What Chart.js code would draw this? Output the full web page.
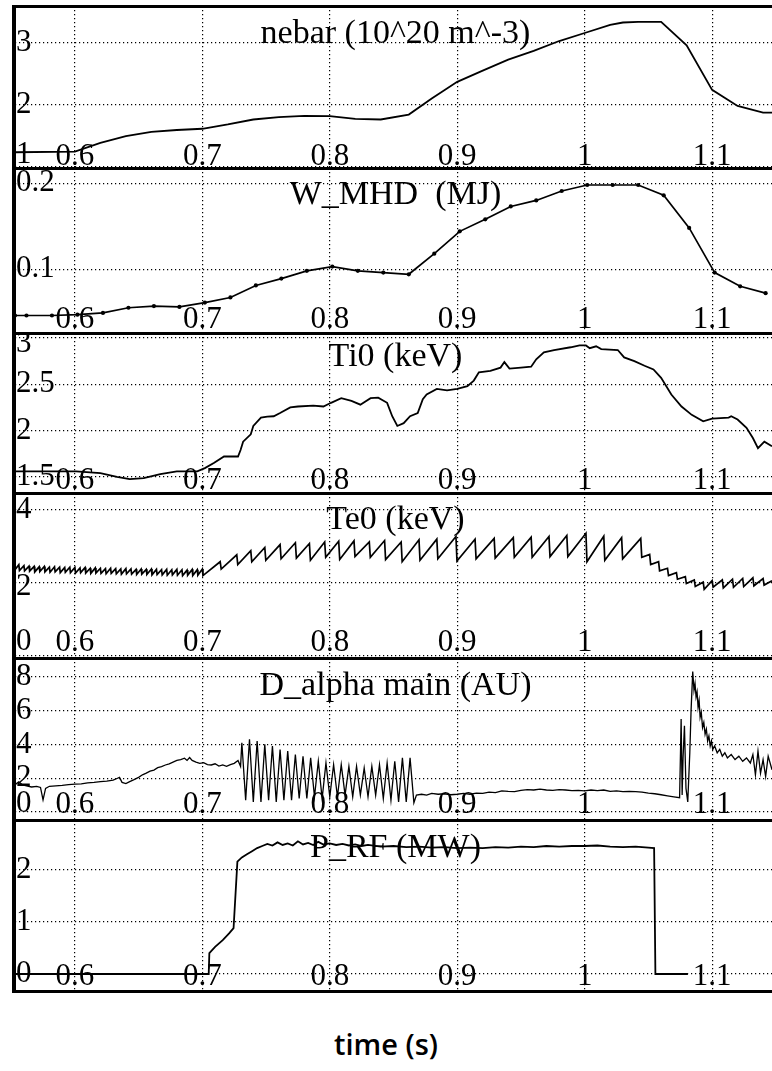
<!DOCTYPE html>
<html>
<head>
<meta charset="utf-8">
<script src="https://cdn.jsdelivr.net/npm/chart.js@4.4.1/dist/chart.umd.min.js"></script>
<style>
  body { margin: 0; background: #fff; width: 772px; height: 1071px; position: relative; overflow: hidden; }
  .panel { position: absolute; left: 15px; width: 757px; }
  .hline { position: absolute; left: 12px; width: 760px; height: 3px; background: #000; z-index: 2; }
  .vline { position: absolute; left: 12px; top: 5px; width: 4px; height: 988px; background: #000; z-index: 2; }
  #xlabel { position: absolute; top: 1024px; left: 0; width: 772px; text-align: center;
            font: 600 29px "Open Sans", sans-serif; color: #000; }
</style>
</head>
<body>
<div class="vline"></div>
<div id="xlabel">time (s)</div>
<script>
// time axis
const tMin = 0.553;
const tMax = 1.147;
const timeTicks = [0.6, 0.7, 0.8, 0.9, 1, 1.1];

// nebar (10^20 m^-3)
const nebarT = [0.553, 0.6, 0.62, 0.64, 0.66, 0.68, 0.70, 0.72, 0.74, 0.76, 0.78, 0.80, 0.82, 0.84, 0.862,
  0.88, 0.90, 0.92, 0.94, 0.96, 0.98, 1.00, 1.02, 1.03, 1.042, 1.06, 1.08, 1.10, 1.12, 1.14, 1.147];
const nebarV = [1.23, 1.24, 1.38, 1.49, 1.56, 1.59, 1.61, 1.68, 1.76, 1.80, 1.82, 1.815, 1.77, 1.76, 1.84,
  2.10, 2.37, 2.55, 2.73, 2.87, 3.03, 3.16, 3.29, 3.33, 3.34, 3.34, 2.96, 2.24, 1.98, 1.87, 1.87];
const nebarTicks = [1, 2, 3];

// W_MHD (MJ)
const wmhdT = [0.553, 0.562, 0.582, 0.602, 0.622, 0.642, 0.662, 0.682, 0.702, 0.722, 0.742, 0.762, 0.782, 0.802,
  0.822, 0.842, 0.862, 0.882, 0.902, 0.922, 0.942, 0.962, 0.982, 1.002, 1.022, 1.042, 1.062, 1.082,
  1.102, 1.122, 1.142];
const wmhdV = [0.046, 0.046, 0.046, 0.047, 0.049, 0.055, 0.057, 0.056, 0.061, 0.067, 0.081, 0.089, 0.098, 0.103,
  0.098, 0.096, 0.094, 0.118, 0.144, 0.158, 0.173, 0.180, 0.191, 0.198, 0.198, 0.198, 0.186, 0.148,
  0.096, 0.080, 0.072];
const wmhdTicks = [0.1, 0.2];

// Ti0 (keV)
const tiT = [0.553, 0.601, 0.620, 0.633, 0.643, 0.654, 0.667, 0.680, 0.696, 0.702, 0.709, 0.717, 0.728, 0.730,
  0.732, 0.738, 0.740, 0.746, 0.751, 0.756, 0.761, 0.769, 0.775, 0.787, 0.795, 0.801, 0.809, 0.817, 0.824,
  0.832, 0.838, 0.845, 0.849, 0.853, 0.858, 0.863, 0.869, 0.873, 0.876, 0.884, 0.892, 0.900, 0.908, 0.913,
  0.917, 0.926, 0.934, 0.937, 0.941, 0.950, 0.958, 0.962, 0.968, 0.976, 0.989, 0.996, 1.001, 1.004, 1.009,
  1.013, 1.026, 1.031, 1.039, 1.047, 1.054, 1.060, 1.068, 1.076, 1.084, 1.093, 1.100, 1.113, 1.115, 1.120,
  1.127, 1.132, 1.136, 1.141, 1.147];
const tiV = [1.56, 1.56, 1.54, 1.50, 1.475, 1.486, 1.53, 1.56, 1.56, 1.595, 1.65, 1.72, 1.72, 1.79,
  1.88, 1.96, 2.05, 2.14, 2.15, 2.155, 2.19, 2.25, 2.26, 2.27, 2.26, 2.30, 2.35, 2.32, 2.28,
  2.35, 2.355, 2.30, 2.155, 2.05, 2.08, 2.155, 2.19, 2.34, 2.39, 2.45, 2.435, 2.45, 2.48, 2.54,
  2.63, 2.645, 2.68, 2.74, 2.67, 2.68, 2.69, 2.77, 2.845, 2.87, 2.90, 2.92, 2.92, 2.89, 2.91,
  2.88, 2.87, 2.79, 2.75, 2.70, 2.66, 2.57, 2.39, 2.26, 2.17, 2.10, 2.13, 2.14, 2.155, 2.12,
  2.03, 1.92, 1.81, 1.88, 1.83];
const tiTicks = [1.5, 2, 2.5, 3];

// Te0 (keV), sawtooth: trough / peak pairs
const teT = [
  0.553, 0.556, 0.5565, 0.560, 0.5605, 0.564, 0.5645, 0.568, 0.5685, 0.572, 0.5725, 0.576, 0.5765, 0.580,
  0.5805, 0.584, 0.5845, 0.588, 0.5885, 0.592, 0.5925, 0.596, 0.5965, 0.600, 0.6005, 0.604, 0.6045, 0.608,
  0.6085, 0.612, 0.6125, 0.616, 0.6165, 0.620, 0.6205, 0.624, 0.6245, 0.628, 0.6285, 0.632, 0.6325, 0.636,
  0.6365, 0.640, 0.6405, 0.644, 0.6445, 0.648, 0.6485, 0.652, 0.6525, 0.656, 0.6565, 0.660, 0.6605, 0.664,
  0.6645, 0.668, 0.6685, 0.672, 0.6725, 0.676, 0.6765, 0.680, 0.6805, 0.684, 0.6845, 0.688, 0.6885, 0.692,
  0.6925, 0.696, 0.6965, 0.700, 0.7005,
  0.714, 0.7148, 0.727, 0.7278, 0.738, 0.7388, 0.749, 0.7498, 0.761, 0.7618, 0.773, 0.7738, 0.784, 0.7848,
  0.796, 0.7968, 0.807, 0.8078, 0.819, 0.8198, 0.831, 0.8318, 0.843, 0.8438, 0.856, 0.8568, 0.870, 0.8708,
  0.884, 0.8848, 0.899, 0.8998, 0.914, 0.9148, 0.929, 0.9298, 0.944, 0.9448, 0.958, 0.9588, 0.972, 0.9728,
  0.986, 0.9868, 1.001, 1.0018, 1.015, 1.0158, 1.029, 1.0298, 1.044, 1.0448,
  1.051, 1.0518, 1.058, 1.0588, 1.065, 1.0658, 1.072, 1.0728, 1.079, 1.0798, 1.086, 1.0868, 1.093, 1.0938,
  1.100, 1.1008, 1.108, 1.1088, 1.116, 1.1168, 1.124, 1.1248, 1.132, 1.1328, 1.140, 1.1408, 1.147];
const teV = [
  2.36, 2.50, 2.34, 2.47, 2.33, 2.46, 2.32, 2.45, 2.30, 2.44, 2.31, 2.45, 2.30, 2.43,
  2.29, 2.44, 2.30, 2.43, 2.28, 2.42, 2.29, 2.43, 2.28, 2.42, 2.27, 2.41, 2.28, 2.42,
  2.27, 2.40, 2.26, 2.41, 2.27, 2.40, 2.26, 2.39, 2.25, 2.40, 2.26, 2.39, 2.25, 2.38,
  2.24, 2.39, 2.25, 2.38, 2.24, 2.37, 2.23, 2.38, 2.24, 2.37, 2.23, 2.38, 2.22, 2.37,
  2.23, 2.36, 2.22, 2.37, 2.21, 2.36, 2.22, 2.37, 2.21, 2.36, 2.20, 2.35, 2.21, 2.37,
  2.20, 2.36, 2.21, 2.38, 2.20,
  2.58, 2.38, 2.77, 2.50, 2.88, 2.58, 2.97, 2.62, 3.05, 2.66, 3.10, 2.68, 3.08, 2.62,
  3.12, 2.70, 3.14, 2.64, 3.15, 2.72, 3.12, 2.70, 3.16, 2.64, 3.12, 2.58, 3.18, 2.62,
  3.20, 2.66, 3.27, 2.60, 3.20, 2.66, 3.22, 2.68, 3.24, 2.70, 3.25, 2.70, 3.27, 2.72,
  3.30, 2.72, 3.36, 2.58, 3.28, 2.62, 3.24, 2.66, 3.22, 2.70,
  2.78, 2.50, 2.58, 2.33, 2.40, 2.20, 2.28, 2.10, 2.17, 1.98, 2.08, 1.90, 2.02, 1.82,
  2.06, 1.88, 2.08, 1.86, 2.10, 1.88, 2.12, 1.90, 2.14, 1.92, 2.12, 1.94, 2.06];
const teTicks = [0, 2, 4];

// D_alpha main (AU)
const daT = [
  0.553, 0.556, 0.559, 0.562, 0.566, 0.570, 0.573, 0.575, 0.577, 0.580, 0.585, 0.590, 0.595, 0.600,
  0.605, 0.610, 0.615, 0.620, 0.625, 0.630, 0.633, 0.635, 0.637, 0.640, 0.643, 0.646, 0.650, 0.653,
  0.656, 0.659, 0.662, 0.665, 0.668, 0.671, 0.674, 0.677, 0.680, 0.683, 0.686, 0.688, 0.690, 0.692,
  0.695, 0.698, 0.701, 0.704, 0.707, 0.710, 0.713, 0.716, 0.719, 0.722, 0.725, 0.728, 0.730,
  0.731, 0.734, 0.737, 0.740, 0.743, 0.746, 0.749, 0.752, 0.755, 0.758, 0.761, 0.764, 0.767, 0.770,
  0.773, 0.776, 0.779, 0.782, 0.785, 0.788, 0.791, 0.794, 0.797, 0.800, 0.803, 0.806, 0.809, 0.812,
  0.815, 0.818, 0.821, 0.824, 0.827, 0.830, 0.833, 0.836, 0.839, 0.842, 0.845, 0.848, 0.851, 0.854,
  0.857, 0.860, 0.863, 0.866,
  0.868, 0.872, 0.876, 0.880, 0.885, 0.890, 0.895, 0.900, 0.905, 0.910, 0.915, 0.920, 0.925, 0.930,
  0.935, 0.940, 0.945, 0.950, 0.955, 0.960, 0.965, 0.970, 0.975, 0.980, 0.985, 0.990, 0.995, 1.000,
  1.005, 1.010, 1.015, 1.020, 1.025, 1.030, 1.035, 1.040, 1.045, 1.050, 1.055, 1.060, 1.065, 1.070,
  1.0745, 1.0757, 1.0765, 1.0772, 1.0783, 1.0795, 1.0809, 1.0825, 1.0835, 1.0848, 1.0858, 1.0866, 1.0874,
  1.0882, 1.089, 1.0898, 1.0906, 1.0915, 1.0925, 1.0935, 1.0945, 1.0955, 1.0965, 1.0975, 1.0985, 1.0995,
  1.1005, 1.102, 1.104, 1.106, 1.108, 1.110, 1.112, 1.115, 1.118, 1.121, 1.124, 1.127, 1.130, 1.132,
  1.134, 1.136, 1.138, 1.140, 1.142, 1.144, 1.147];
const daV = [
  1.62, 1.78, 1.60, 1.55, 1.48, 1.52, 1.45, 0.72, 1.40, 1.52, 1.55, 1.58, 1.62, 1.65,
  1.66, 1.72, 1.75, 1.80, 1.82, 1.88, 1.98, 2.05, 1.75, 1.68, 1.80, 1.90, 2.05, 2.20,
  2.30, 2.42, 2.48, 2.62, 2.68, 2.78, 2.85, 2.95, 3.05, 3.10, 3.18, 3.05, 3.22, 3.05,
  2.95, 2.88, 2.92, 2.80, 2.78, 2.85, 2.72, 2.78, 2.70, 2.80, 2.88, 3.05, 2.70,
  4.1, 0.7, 4.3, 0.6, 4.2, 0.6, 4.0, 0.7, 3.9, 0.6, 3.7, 0.7, 3.6, 0.7,
  3.4, 0.8, 3.3, 0.8, 3.2, 0.9, 3.0, 0.8, 2.9, 0.9, 2.8, 0.9, 2.8, 1.0,
  2.7, 0.9, 2.7, 1.0, 2.6, 0.9, 2.7, 1.0, 2.8, 0.8, 2.9, 0.7, 3.0, 0.6,
  3.2, 0.6, 3.2, 0.55,
  1.00, 1.05, 1.00, 1.10, 1.05, 1.08, 1.02, 1.05, 1.10, 1.05, 1.12, 1.10, 1.18, 1.15,
  1.25, 1.22, 1.20, 1.28, 1.32, 1.30, 1.35, 1.30, 1.28, 1.32, 1.30, 1.26, 1.28, 1.25,
  1.30, 1.27, 1.30, 1.22, 1.25, 1.20, 1.22, 1.20, 1.18, 1.12, 1.08, 1.02, 0.96, 0.90,
  0.85, 5.5, 1.0, 3.2, 5.1, 1.4, 0.6, 3.5, 6.0, 8.3, 7.2, 7.6, 6.8,
  7.1, 6.2, 6.6, 5.6, 5.9, 5.0, 5.3, 4.6, 4.9, 4.2, 4.5, 3.9, 4.2,
  3.7, 3.9, 3.5, 3.7, 3.3, 3.5, 3.2, 3.4, 3.1, 3.3, 3.0, 3.2, 2.9, 3.4,
  2.2, 3.6, 2.3, 3.1, 2.1, 3.3, 2.5];
const daTicks = [0, 2, 4, 6, 8];

// P_RF (MW)
const prfT = [0.553, 0.705, 0.7055, 0.710, 0.716, 0.721, 0.7245, 0.7275, 0.731, 0.735, 0.739, 0.743, 0.747,
  0.751, 0.755, 0.759, 0.763, 0.767, 0.771, 0.775, 0.779, 0.783, 0.787, 0.791, 0.795, 0.800, 0.805, 0.810,
  0.815, 0.820, 0.825, 0.830, 0.840, 0.850, 0.860, 0.870, 0.880, 0.890, 0.900, 0.910, 0.920, 0.930, 0.940,
  0.950, 0.960, 0.970, 0.980, 0.990, 1.000, 1.010, 1.020, 1.030, 1.040, 1.050, 1.0545, 1.0555, 1.081];
const prfV = [0, 0, 0.40, 0.52, 0.65, 0.78, 0.88, 2.16, 2.24, 2.30, 2.36, 2.42, 2.46,
  2.50, 2.47, 2.53, 2.48, 2.51, 2.47, 2.55, 2.49, 2.52, 2.48, 2.54, 2.49, 2.51, 2.48, 2.50,
  2.47, 2.49, 2.46, 2.48, 2.45, 2.46, 2.44, 2.45, 2.43, 2.44, 2.42, 2.43, 2.42, 2.44, 2.43,
  2.45, 2.44, 2.46, 2.45, 2.46, 2.46, 2.47, 2.45, 2.44, 2.45, 2.43, 2.42, 0, 0];
const prfTicks = [0, 1, 2];

const SERIF = '"Liberation Serif", "Times New Roman", serif';

const panelTitle = {
  id: 'panelTitle',
  beforeDatasetsDraw(chart, args, opts) {
    const { ctx, chartArea } = chart;
    ctx.save();
    ctx.font = '34px ' + SERIF;
    ctx.fillStyle = '#000';
    ctx.textAlign = 'center';
    ctx.textBaseline = 'middle';
    ctx.fillText(opts.text, (chartArea.left + chartArea.right) / 2 + 2, chartArea.top + opts.dy);
    ctx.restore();
  }
};

const panels = [
  { title: 'nebar (10^20 m^-3)', t: nebarT, v: nebarV, ticks: nebarTicks, min: 0.975, max: 3.597,
    top: 6, bottom: 168, titleDy: 28, xOff: 11, shift: { 1: -12 }, lw: 1.8, pr: 0 },
  { title: 'W_MHD  (MJ)', t: wmhdT, v: wmhdV, ticks: wmhdTicks, min: 0.0256, max: 0.2178,
    top: 168, bottom: 333, titleDy: 27, xOff: 13, shift: {}, lw: 1.7, pr: 2.1 },
  { title: 'Ti0 (keV)', t: tiT, v: tiV, ticks: tiTicks, min: 1.326, max: 3.054,
    top: 333, bottom: 493, titleDy: 24, xOff: 12, shift: { 3: 6 }, lw: 1.8, pr: 0 },
  { title: 'Te0 (keV)', t: teT, v: teV, ticks: teTicks, min: -0.06, max: 4.464,
    top: 493, bottom: 658, titleDy: 27, xOff: 15, shift: { 0: -14, 2: 4 }, lw: 1.7, pr: 0 },
  { title: 'D_alpha main (AU)', t: daT, v: daV, ticks: daTicks, min: -0.473, max: 9.107,
    top: 658, bottom: 820, titleDy: 28, xOff: 15, shift: { 0: -8 }, lw: 1.3, pr: 0 },
  { title: 'P_RF (MW)', t: prfT, v: prfV, ticks: prfTicks, min: -0.327, max: 2.96,
    top: 820, bottom: 991, titleDy: 28, xOff: 14, shift: {}, lw: 1.8, pr: 0 }
];

const gridStyle = { color: '#000', lineWidth: 1.2, drawTicks: false };
const dots = { display: false, dash: [1.2, 2.8] };

// axes take no room: labels sit inside the plot, as in the original
function noRoom(s) {
  if (s.isHorizontal()) s.height = 0; else s.width = 0;
  s.paddingTop = 0;
  s.paddingBottom = 0;
  s.paddingLeft = 0;
  s.paddingRight = 0;
}

panels.forEach((p) => {
  const div = document.createElement('div');
  div.className = 'panel';
  div.style.top = p.top + 'px';
  div.style.height = (p.bottom - p.top) + 'px';
  const canvas = document.createElement('canvas');
  canvas.width = 757;
  canvas.height = p.bottom - p.top;
  div.appendChild(canvas);
  document.body.appendChild(div);

  const line = document.createElement('div');
  line.className = 'hline';
  line.style.top = (p.top - 1) + 'px';
  document.body.appendChild(line);

  new Chart(canvas.getContext('2d'), {
    type: 'line',
    data: {
      datasets: [{
        data: p.t.map((t, i) => ({ x: t, y: p.v[i] })),
        borderColor: '#000',
        borderWidth: p.lw,
        pointRadius: p.pr,
        pointBackgroundColor: '#000',
        pointBorderWidth: 0,
        tension: 0
      }]
    },
    options: {
      animation: false,
      responsive: false,
      layout: { padding: 0, autoPadding: false },
      plugins: {
        legend: { display: false },
        tooltip: { enabled: false },
        panelTitle: { text: p.title, dy: p.titleDy }
      },
      scales: {
        x: {
          type: 'linear', min: tMin, max: tMax, position: 'bottom',
          afterBuildTicks: (s) => { s.ticks = timeTicks.map((v) => ({ value: v })); },
          afterFit: noRoom,
          grid: gridStyle,
          border: dots,
          ticks: {
            mirror: true, padding: 0, autoSkip: false, maxRotation: 0, color: '#000',
            font: { family: SERIF, size: 31, lineHeight: (2 * p.xOff) + 'px' },
            callback: (v) => String(v)
          }
        },
        y: {
          type: 'linear', min: p.min, max: p.max, position: 'left',
          afterBuildTicks: (s) => { s.ticks = p.ticks.map((v) => ({ value: v })); },
          afterFit: noRoom,
          grid: gridStyle,
          border: dots,
          ticks: {
            mirror: true, padding: 1, autoSkip: false, color: '#000',
            font: (ctx) => {
              const s = ctx.tick ? p.shift[ctx.tick.value] : 0;
              return { family: SERIF, size: 31, lineHeight: s ? (2 * Math.abs(s)) + 'px' : 1 };
            },
            callback: (v) => {
              const s = p.shift[v];
              const label = String(v);
              if (!s) return label;
              return s < 0 ? [label, ''] : ['', label];
            }
          }
        }
      }
    },
    plugins: [panelTitle]
  });
});

const last = document.createElement('div');
last.className = 'hline';
last.style.top = (panels[panels.length - 1].bottom - 1) + 'px';
document.body.appendChild(last);
</script>
</body>
</html>
